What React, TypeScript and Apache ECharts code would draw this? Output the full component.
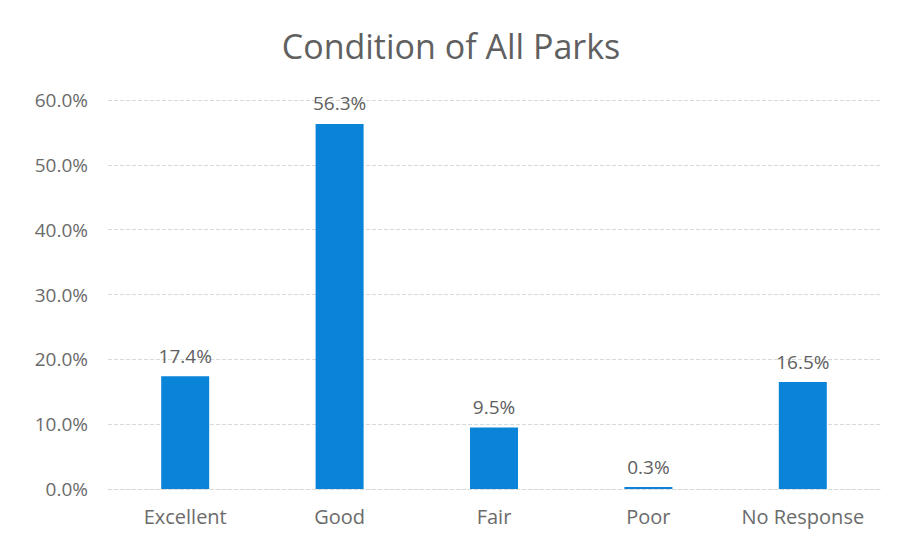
import React, { useEffect, useRef } from "react";
import * as echarts from "echarts";

const categories = ["Excellent", "Good", "Fair", "Poor", "No Response"];
const values = [17.4, 56.3, 9.5, 0.3, 16.5];
const yTicks = [0, 10, 20, 30, 40, 50, 60];
const title = "Condition of All Parks";

export default function App() {
  const ref = useRef<HTMLDivElement>(null);
  useEffect(() => {
    const chart = echarts.init(ref.current!, null, { renderer: "svg" });
    chart.setOption({
      animation: false,
      backgroundColor: "#ffffff",
      title: {
        text: title,
        left: "center",
        top: 24,
        textStyle: {
          fontFamily: "Open Sans",
          fontSize: 34,
          fontWeight: "normal",
          color: "#606060",
        },
      },
      grid: { left: 108, right: 22, top: 100, bottom: 58 },
      xAxis: {
        type: "category",
        data: categories,
        axisLine: { show: true, lineStyle: { color: "#d9d9d9", type: "dashed" } },
        axisTick: { show: false },
        axisLabel: {
          interval: 0,
          hideOverlap: false,
          color: "#6b6b6b",
          fontSize: 20,
          fontFamily: "Open Sans",
          margin: 17,
        },
      },
      yAxis: {
        type: "value",
        min: yTicks[0],
        max: yTicks[yTicks.length - 1],
        interval: 10,
        axisLine: { show: false },
        axisTick: { show: false },
        splitLine: { lineStyle: { color: "#d9d9d9", type: "dashed" } },
        axisLabel: {
          color: "#6b6b6b",
          fontSize: 19,
          fontFamily: "Open Sans",
          margin: 20,
          formatter: (v: number) => v.toFixed(1) + "%",
        },
      },
      series: [
        {
          type: "bar",
          data: values,
          barWidth: 48,
          itemStyle: { color: "#0A84D8" },
          label: {
            show: true,
            position: "top",
            distance: 11,
            color: "#606060",
            fontSize: 19,
            fontFamily: "Open Sans",
            formatter: (p: any) => p.value.toFixed(1) + "%",
          },
        },
      ],
    });
    return () => chart.dispose();
  }, []);
  return (
    <div
      ref={ref}
      style={{ position: "fixed", left: 0, top: 0, width: 902, height: 547 }}
    />
  );
}
